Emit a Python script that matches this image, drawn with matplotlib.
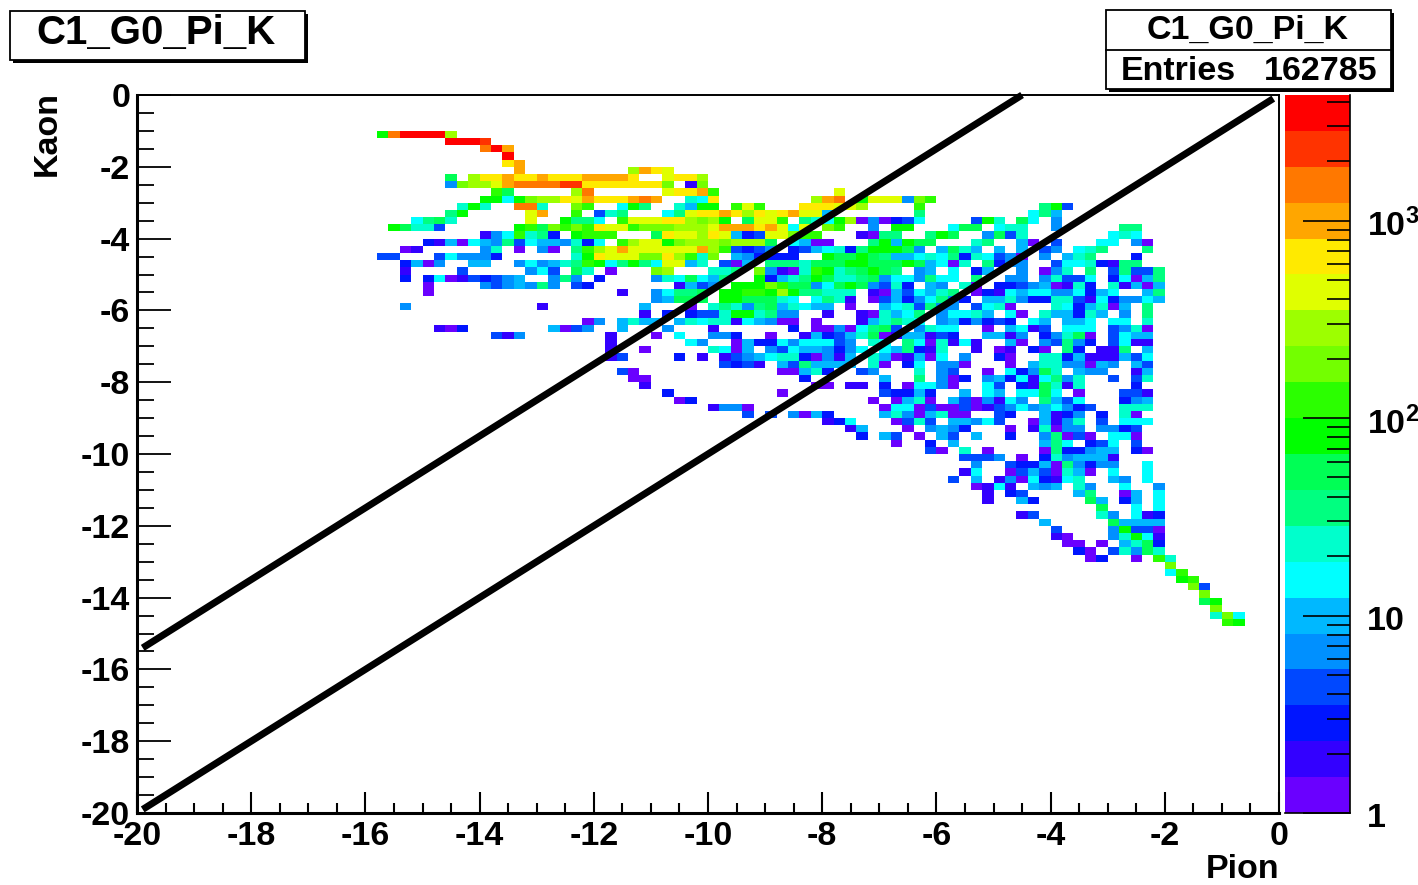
import numpy as np
import matplotlib
matplotlib.use("Agg")
import matplotlib.pyplot as plt
from matplotlib.colors import ListedColormap, BoundaryNorm
from matplotlib.patches import Rectangle
from matplotlib.transforms import ScaledTranslation

plt.rcParams['font.family'] = ['Liberation Sans', 'DejaVu Sans']
plt.rcParams['font.weight'] = 'bold'
plt.rcParams['axes.unicode_minus'] = False
plt.rcParams['mathtext.fontset'] = 'custom'
plt.rcParams['mathtext.bf'] = 'Liberation Sans:bold'
plt.rcParams['mathtext.rm'] = 'Liberation Sans:bold'

W, H = 1418, 885
TITLE = "C1_G0_Pi_K"
ENTRIES = "162785"
X_TICKS = [-20, -18, -16, -14, -12, -10, -8, -6, -4, -2, 0]
Y_TICKS = [0, -2, -4, -6, -8, -10, -12, -14, -16, -18, -20]
Z_TOP = 4320.0
PALETTE = ['#6a00ff', '#3300ff', '#0015ff', '#0048ff', '#0090ff', '#00b8ff', '#00ffff',
           '#00ffcc', '#00ff80', '#00ff55', '#00ff00', '#2bff00', '#73ff00', '#9dff00',
           '#e0ff00', '#ffea00', '#ffa600', '#ff7800', '#ff3300', '#ff0000']
LINE_UPPER = ([-19.9, -4.5], [-15.4, 0.0])
LINE_LOWER = ([-19.9, -0.1], [-19.9, -0.1])

# colour band of each filled bin: {row from top: {column from left: band}}
cells_left = {
 5: {21:10,22:17,23:19,24:19,25:19,26:19,27:13},
 6: {27:19,28:19,29:19,30:18},
 7: {30:17,31:19,32:16},
 8: {32:19},
 9: {32:15,33:16},
 10: {33:16,43:13,44:16,45:15,46:14},
 11: {27:9,29:13,30:15,31:15,32:16,33:15,34:15,35:16,36:15,37:15,38:15,39:16,40:16,41:16,42:16,43:15,46:14},
 12: {27:4,28:12,29:13,30:13,31:14,32:16,33:17,34:17,35:17,36:17,37:18,38:18,39:15,40:15,41:15,42:15,43:15,44:15,45:15,46:12},
 13: {31:11,32:9,38:13,39:17,46:14},
 14: {30:10,31:10,32:6,33:10,34:12,35:13,36:13,37:15,38:14,39:16,40:15,41:15,42:15,43:16,44:17,45:16},
 15: {28:7,29:10,30:7,33:17,34:17,35:7,38:12,39:11,42:6,43:10,44:8},
 16: {27:8,28:10,34:14,35:16,38:11,40:3,41:7,42:8,46:6},
 17: {24:6,25:8,26:9,27:7,34:14,37:10,38:8,39:8,40:6,42:11,43:14,44:14,45:14,46:15},
 18: {22:10,23:9,24:7,25:7,26:3,33:10,34:11,35:9,36:12,37:11,38:12,39:11,40:15,41:14,42:14,43:11,44:12,45:12,46:12},
 19: {30:1,31:4,32:6,33:11,34:7,35:8,36:2,38:10,39:11,40:11,41:11,45:9,46:15},
 20: {25:2,26:1,27:5,28:0,29:6,30:5,31:4,32:8,33:3,34:6,35:5,36:5,37:4,38:7,39:2,40:6,42:11,43:13,44:14,45:14,46:10},
 21: {23:0,24:1,30:4,31:7,33:0,35:4,36:0,38:8,39:11,40:13,41:14,42:16,43:14,44:14,45:14,46:14},
 22: {21:3,22:3,26:3,27:6,28:4,29:4,30:4,31:2,38:7,39:10,40:15,41:14,42:14,43:14,44:12,45:12,46:15},
 23: {23:2,24:5,25:0,26:4,29:5,30:5,33:4,34:6,35:4,36:5,37:7,38:8,39:11,40:10,41:6,42:8,43:10,44:8,45:6,46:14},
 24: {23:1,28:3,34:4,35:6,36:3,38:9,39:7,41:0,45:12,46:13},
 25: {23:2,25:2,26:6,27:0,28:1,29:3,30:2,31:3,32:4,33:5,36:4,37:8,38:4,40:2,45:4,46:7},
 26: {25:0,30:4,31:3,32:4,33:5,34:4,35:8,36:4,38:3,39:2},
 27: {25:0,42:1,45:4,46:6},
 28: {45:4,46:5},
 29: {23:4,35:1,44:5},
 30: {44:1,46:2},
 31: {39:0,40:4,42:5,43:7,44:5,45:5},
 32: {26:1,27:0,28:2,36:5,37:0,38:3,39:4,42:5,46:4},
 33: {31:3,32:1,33:4,41:1,45:0},
 34: {41:1},
 35: {41:1,44:0},
 36: {41:1,42:3},
 38: {42:3,43:0},
 39: {43:0,44:0},
 40: {44:1},
}

cells_middle = {
 11: {47:15,48:15,49:13},
 12: {48:1,49:12},
 13: {47:15,48:15,49:16,50:11,61:14},
 14: {48:7,49:6,50:15,59:13,60:16,61:17,63:10,64:14,65:14,66:14},
 15: {47:7,48:5,49:10,50:10,52:11,53:14,54:11,58:15,59:15,60:15,61:14,62:14,63:13},
 16: {47:8,48:14,49:15,50:15,51:16,52:15,53:13,54:15,55:14,56:15,57:16,58:14,59:14,60:5},
 17: {47:15,48:13,49:12,50:13,51:10,53:9,54:14,55:14,56:11,58:8,59:7,60:6,61:10,62:13,63:0,64:4,65:0,66:2},
 18: {47:13,48:13,49:13,50:14,51:16,52:16,53:16,54:15,55:16,56:14,57:6,58:14,60:12,61:11,64:4,66:10},
 19: {47:14,48:14,49:13,50:15,51:14,52:5,53:2,54:3,55:14,56:14,57:12,58:11,59:11,63:1,64:0,65:8,66:8},
 20: {47:12,48:13,49:13,50:13,51:12,52:13,53:13,54:13,55:9,57:6,58:5,59:0,60:0,64:8,65:10,66:5},
 21: {47:14,48:14,49:16,50:13,51:11,52:3,53:2,54:3,55:4,57:2,58:3,59:5,60:6,61:7,62:2,63:8,64:10,65:10,66:10},
 22: {47:13,48:11,49:7,50:12,52:5,53:4,54:2,55:2,56:2,57:2,60:10,61:9,62:9,63:10,64:9,65:8,66:5},
 23: {47:14,48:5,49:7,51:3,52:0,53:5,55:8,56:8,57:8,58:7,59:9,60:9,61:9,62:10,63:10,64:9,65:9,66:9},
 24: {50:7,51:7,52:8,54:12,55:4,56:1,57:0,58:7,59:11,60:10,61:7,62:8,63:9,64:10,65:9,66:8},
 25: {46:7,47:6,48:9,49:6,50:5,51:8,54:10,55:2,56:5,57:7,58:8,59:10,60:9,61:7,62:7,63:8,64:9,65:4,66:6},
 26: {47:1,48:5,49:3,50:4,52:10,53:10,54:10,55:12,56:11,57:9,58:9,59:4,60:6,61:9,62:10,63:9,64:4,65:3,66:7},
 27: {46:6,47:8,48:8,49:9,51:10,52:10,53:11,54:11,55:10,56:13,57:10,58:8,59:8,60:7,61:7,62:7,64:1,65:0,66:5},
 28: {46:5,47:9,48:9,49:9,51:10,52:10,53:9,54:9,55:9,56:7,57:6,59:6,60:8,61:7,62:1,64:0,65:3,66:5},
 29: {48:0,50:7,51:8,52:7,53:4,54:8,55:9,56:5,57:7,58:6,59:5,60:5,62:0,65:5,66:6},
 30: {46:2,48:2,49:3,50:3,51:7,52:10,53:10,54:7,55:8,56:4,57:4,60:1,63:1,64:0,65:7,66:5},
 31: {47:5,48:7,49:6,50:7,51:7,52:1,53:6,54:5,55:4,56:0,57:0,59:0,63:1,64:5,65:7,66:8},
 32: {50:1,57:2,59:0,60:0,61:4,62:0,63:6,64:8,65:9,66:3},
 33: {47:6,50:4,51:4,52:2,55:0,58:1,59:5,60:2,61:3,62:5,63:7,64:9,65:0,66:1},
 34: {48:6,49:4,52:0,53:5,54:2,55:2,56:6,57:4,58:6,59:6,60:6,61:3,62:4,64:7,65:6},
 35: {50:7,51:6,52:0,53:5,55:4,56:3,57:6,58:5,59:5,60:4,61:2,62:4,63:6,65:6,66:5},
 36: {47:2,49:1,51:1,52:3,53:4,54:5,55:6,56:7,57:7,58:2,59:0,60:4,61:1,62:5,64:7,65:5,66:0},
 37: {51:3,52:2,53:3,54:1,56:5,57:3,58:8,59:5,60:5,61:5,62:5,64:7,65:0},
 38: {56:0,57:0,58:5,59:7,60:2,63:3,64:4},
 39: {58:2,65:5},
 40: {59:0,60:0,62:1,63:1,65:2},
 41: {46:2,56:0,65:3,66:2},
 42: {47:0,48:2,64:0,66:0},
 43: {50:1,51:4,52:4,53:0,65:0,66:6},
 44: {53:3,55:3,57:4,58:0,59:5,60:2,65:5,66:7},
 45: {60:1,61:2,62:6,66:0},
 46: {62:1,63:5},
 47: {63:2,65:5,66:3},
 48: {66:0},
}

cells_right = {
 14: {67:4,68:12,69:11},
 15: {68:11,79:8,80:10,81:3},
 16: {68:8,78:6,79:8,80:5},
 17: {67:3,68:6,73:3,74:10,75:7,77:9,78:6,80:4},
 18: {66:10,67:10,71:6,72:9,73:9,75:6,76:7,77:7,80:4,86:8,87:8},
 19: {69:8,70:10,71:9,74:4,75:9,76:3,77:7,85:6,86:7,87:6},
 20: {67:10,68:9,69:9,73:7,74:8,77:5,78:0,80:3,84:6,85:6,87:4,88:0},
 21: {67:9,68:4,70:5,71:9,72:7,73:5,75:5,77:5,79:3,80:4,82:6,83:7,84:8,88:8},
 22: {66:5,67:5,68:6,69:7,70:6,71:8,72:2,73:7,74:6,75:3,76:4,77:0,79:4,81:5,82:7,83:8,87:2},
 23: {67:10,68:9,69:5,70:6,71:0,72:7,74:8,75:2,76:4,77:4,80:3,81:6,82:6,83:7,84:2,85:1,86:8,87:8},
 24: {68:4,69:5,71:6,73:2,74:5,77:4,79:0,80:4,81:7,83:8,85:3,86:8,87:3,88:3,89:8},
 25: {66:6,67:6,68:4,69:8,70:6,71:6,73:8,76:4,77:4,79:4,80:7,81:3,82:3,83:6,85:2,86:6,87:0,88:5,89:8},
 26: {67:2,69:5,70:4,72:7,73:0,75:2,76:2,77:3,78:4,79:5,80:0,81:1,82:7,83:2,85:7,86:1,87:5,88:0,89:5},
 27: {67:3,68:6,69:5,70:7,71:8,73:0,74:2,75:1,76:6,77:5,78:6,79:6,80:4,81:4,82:6,83:2,84:5,85:6,88:5,89:8},
 28: {67:2,68:4,69:6,70:8,71:4,72:2,74:5,75:5,76:7,77:4,78:2,79:2,80:7,81:7,82:3,83:1,84:6,85:2,86:4,87:4,88:6,89:5},
 29: {67:7,68:3,69:8,70:4,71:4,73:3,74:6,75:7,76:0,80:7,81:6,82:2,83:5,84:7,85:0,86:5,88:8},
 30: {67:6,68:8,70:4,71:6,72:6,73:7,74:5,76:6,77:0,79:7,80:5,81:5,82:2,83:7,84:5,86:4,88:8},
 31: {67:7,68:6,70:4,71:5,72:2,73:4,74:2,75:3,76:2,78:6,79:5,81:5,82:5,83:6,85:6,86:6,88:7},
 32: {68:4,69:7,70:6,71:6,74:0,76:5,77:6,78:1,79:3,81:6,82:6,83:6,85:3,86:4,87:7,88:0},
 33: {67:5,68:5,69:1,70:3,71:2,74:5,75:5,76:1,77:4,79:2,80:4,81:7,82:9,83:0,85:3,86:6,87:5,88:5},
 34: {67:8,68:6,69:0,70:7,71:1,72:6,73:1,76:5,77:0,79:4,80:3,81:8,82:4,83:2,85:3,86:6,87:1,88:1},
 35: {67:8,68:2,69:1,70:7,73:1,75:0,76:1,78:2,79:0,81:8,82:2,84:1,85:1,86:8,88:5},
 36: {67:1,68:5,69:0,70:6,72:4,75:2,76:0,79:7,80:7,81:2,82:5,83:1,84:1,85:1,86:5,87:3,88:6},
 37: {67:2,68:6,70:4,71:4,72:0,76:0,78:5,79:7,80:7,81:4,82:4,83:0,84:5,85:4,87:5,88:3},
 38: {68:7,70:4,71:3,74:0,76:6,77:2,78:4,79:9,80:7,82:5,83:4,84:4,87:1,88:5},
 39: {68:8,70:4,71:0,72:2,74:4,75:5,76:2,77:6,78:1,79:6,80:8,81:4,82:7,85:3,87:3,88:7},
 40: {67:0,68:6,69:6,70:4,71:0,74:6,75:3,77:2,78:1,79:9,80:7,81:1,82:7,87:2},
 41: {66:2,67:2,68:5,69:2,72:5,74:6,75:5,77:6,78:6,79:9,80:6,82:0,86:3,87:3,88:1},
 42: {67:5,68:7,69:0,71:5,72:3,73:0,74:4,75:1,76:6,77:4,79:8,80:5,81:3,82:6,86:2,87:4,88:5},
 43: {66:6,67:6,68:0,69:3,70:0,71:0,72:3,73:0,74:1,75:3,76:4,77:6,78:4,79:5,80:6,81:4,82:2,83:3,86:7,87:7,88:7},
 44: {67:4,68:0,69:5,70:7,71:0,72:0,75:3,76:2,79:5,80:1,81:2,82:4,84:2,86:7,87:0},
 45: {67:3,68:7,69:3,71:5,72:5,73:4,74:6,75:3,78:0,79:5,80:1,81:4,82:7,84:3,86:6,87:6,88:6},
 46: {67:0,69:4,70:5,71:4,72:2,76:0,78:1,79:7,80:0,81:4,82:4,84:4,85:4,86:2,87:3},
 47: {68:0,70:5,71:3,73:5,76:2,79:4,80:8,81:0,82:3,83:0,85:6,86:6,87:0},
 48: {69:2,71:5,79:5,80:8,81:6,83:2,84:3,85:6,87:3},
 49: {69:3,70:0,72:7,74:0,79:0,80:8,81:2,82:2,83:4,84:5,85:5,87:2,88:0},
}

cells_tail = {
 50: {72:3,73:3,74:3,75:4,77:0,79:2,80:7,81:4,82:5,83:5,84:5,85:1},
 51: {73:4,76:3,77:2,78:2,79:5,80:0,81:8,82:4,83:2,84:4,85:4,88:6},
 52: {72:1,73:6,76:0,77:3,78:5,79:3,80:0,81:7,82:5,83:0,85:6,88:6},
 53: {71:3,73:5,75:1,76:4,77:0,78:6,79:2,80:1,81:6,82:7,85:5,86:4,88:6},
 54: {73:0,74:1,75:6,76:1,78:5,79:4,80:5,82:7,83:4,86:6,89:4},
 55: {74:1,76:2,77:3,82:5,83:8,86:0,87:5,89:6},
 56: {74:1,77:5,78:2,83:9,84:5,86:2,87:5,89:6},
 57: {84:9,87:6,89:6},
 58: {77:1,78:3,84:7,85:4,87:6,88:1,89:2},
 59: {79:5,85:9,86:5,87:5,88:5,89:5},
 60: {80:3,85:4,86:10,87:3,88:3,89:0},
 61: {80:1,81:0,85:4,86:7,87:10,88:6,89:1},
 62: {81:0,82:0,84:0,86:5,87:7,88:9,89:2},
 63: {82:2,83:0,85:3,86:7,87:4,88:9,89:7},
 64: {83:0,84:2,87:0,89:11,90:7},
 65: {90:12},
 66: {90:6,91:11},
 67: {91:10,92:11},
 68: {92:12,93:3},
 69: {93:12},
 70: {93:9,94:10},
 71: {94:12},
 72: {94:7,95:12,96:6},
 73: {95:11,96:10},
}

def fx(px):
    return px / W

def fy(py):
    return 1 - py / H

def axes_box(x0, y0, x1, y1):
    return [fx(x0), fy(y1), fx(x1) - fx(x0), fy(y0) - fy(y1)]

n_bands = len(PALETTE)
band_edges = np.logspace(0, np.log10(Z_TOP), n_bands + 1)
band_mid = np.sqrt(band_edges[:-1] * band_edges[1:])
cmap = ListedColormap(PALETTE)
norm = BoundaryNorm(band_edges, n_bands)

counts = np.full((100, 100), np.nan)
for block in (cells_left, cells_middle, cells_right, cells_tail):
    for row, cols in block.items():
        for col, band in cols.items():
            counts[99 - row, col] = band_mid[band]

fig = plt.figure(figsize=(W / 100, H / 100), dpi=100, facecolor='white')

ax = fig.add_axes(axes_box(137, 95, 1279, 813))
edges = np.linspace(-20, 0, 101)
ax.pcolormesh(edges, edges, np.ma.masked_invalid(counts), cmap=cmap, norm=norm, shading='flat')
for xs, ys in (LINE_UPPER, LINE_LOWER):
    ax.plot(xs, ys, color='black', lw=5.0, solid_capstyle='butt', clip_on=False)
ax.set_xlim(-20, 0)
ax.set_ylim(-20, 0)
ax.set_xticks(X_TICKS)
ax.set_yticks(Y_TICKS)
ax.set_xticks(np.arange(-20, 0.01, 0.5), minor=True)
ax.set_yticks(np.arange(-20, 0.01, 0.5), minor=True)
ax.tick_params(axis='x', which='major', direction='in', length=15, width=1.5, labelsize=24.5, pad=6)
ax.tick_params(axis='x', which='minor', direction='in', length=7.5, width=1.5)
ax.tick_params(axis='y', which='major', direction='in', length=24.5, width=1.3, labelsize=24.5, pad=5)
ax.tick_params(axis='y', which='minor', direction='in', length=12.2, width=1.3)
for name, lw in (('left', 2.2), ('bottom', 2.2), ('top', 1.4), ('right', 1.4)):
    ax.spines[name].set_linewidth(lw)

fig.text(fx(1279), fy(869), 'Pion', fontsize=24.5, fontweight='bold', ha='right', va='center')
fig.text(fx(47), fy(91), 'Kaon', fontsize=24.5, fontweight='bold', rotation=90, ha='center', va='top')

cax = fig.add_axes(axes_box(1285, 95, 1350, 813))
cax.pcolormesh([0, 1], band_edges, band_mid[:, None], cmap=cmap, norm=norm, shading='flat')
cax.set_yscale('log')
cax.set_ylim(1, Z_TOP)
cax.set_xlim(0, 1)
cax.set_xticks([])
cax.yaxis.tick_right()
cax.set_yticks([1, 10, 100, 1000])
cax.set_yticklabels(['1', '10', r'$\mathbf{10^{2}}$', r'$\mathbf{10^{3}}$'])
minor_marks = [m * d for d in (1, 10, 100) for m in range(2, 10)] + [2000, 3000, 4000]
cax.set_yticks(minor_marks, minor=True)
cax.set_yticklabels([], minor=True)
cax.tick_params(axis='y', which='major', direction='in', length=34, width=1.2, labelsize=24.5, pad=12)
cax.tick_params(axis='y', which='minor', direction='in', length=16.5, width=1.2)
shift = ScaledTranslation(0, -1.5 / 72, fig.dpi_scale_trans)
for lab in cax.get_yticklabels():
    lab.set_transform(lab.get_transform() + shift)
for name in ('top', 'left'):
    cax.spines[name].set_visible(False)
cax.spines['right'].set_linewidth(1.2)
cax.spines['bottom'].set_linewidth(1.2)

def framed_box(x0, y0, x1, y1):
    fig.add_artist(Rectangle((fx(x0 + 3), fy(y1 + 3)), fx(x1 - x0), fy(y0) - fy(y1),
                             transform=fig.transFigure, facecolor='black', edgecolor='black', lw=0, zorder=5))
    fig.add_artist(Rectangle((fx(x0), fy(y1)), fx(x1 - x0), fy(y0) - fy(y1),
                             transform=fig.transFigure, facecolor='white', edgecolor='black', lw=1.3, zorder=6))

framed_box(10, 11, 305, 60)
fig.text(fx(156), fy(33), TITLE, fontsize=29, fontweight='bold', ha='center', va='center', zorder=7)

framed_box(1106, 10, 1391, 89)
fig.add_artist(plt.Line2D([fx(1106), fx(1391)], [fy(50), fy(50)], color='black', lw=1.3,
                          transform=fig.transFigure, zorder=7))
fig.text(fx(1248), fy(30), TITLE, fontsize=24.5, fontweight='bold', ha='center', va='center', zorder=7)
fig.text(fx(1121), fy(72), 'Entries', fontsize=24.5, fontweight='bold', ha='left', va='center', zorder=7)
fig.text(fx(1377), fy(72), ENTRIES, fontsize=24.5, fontweight='bold', ha='right', va='center', zorder=7)

fig.savefig('out.png', dpi=100, facecolor='white')
